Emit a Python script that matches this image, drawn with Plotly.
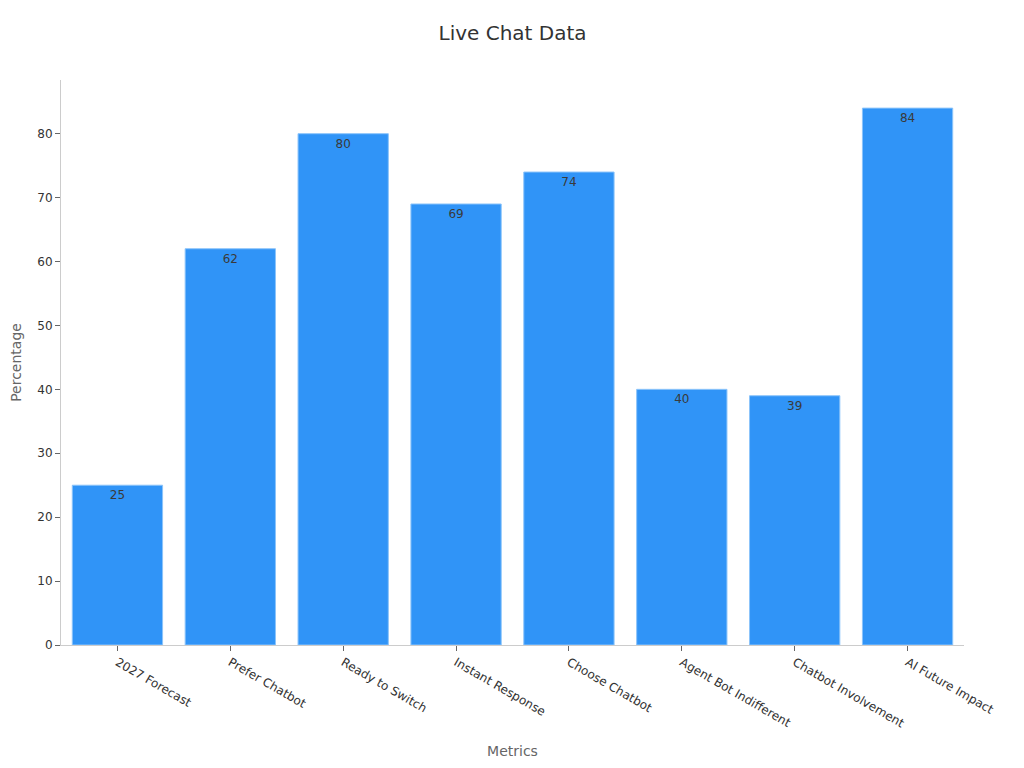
import plotly.graph_objects as go

categories = ["2027 Forecast", "Prefer Chatbot", "Ready to Switch", "Instant Response",
              "Choose Chatbot", "Agent Bot Indifferent", "Chatbot Involvement", "AI Future Impact"]
values = [25, 62, 80, 69, 74, 40, 39, 84]

fig = go.Figure(go.Bar(
    x=categories, y=values,
    text=values, textposition="inside", insidetextanchor="end",
    textfont=dict(family="DejaVu Sans", size=12, color="#3a3a3a"),
    marker=dict(color="#3094F7", line=dict(color="#8CC4FA", width=1)),
))

fig.update_layout(
    width=1024, height=768,
    paper_bgcolor="white", plot_bgcolor="white",
    margin=dict(l=53, r=68, t=72, b=131),
    bargap=0.2,
    font=dict(family="DejaVu Sans", size=12, color="#333333"),
    title=dict(text="Live Chat Data", x=0.4927, xanchor="center", y=0.9674, yanchor="middle",
               font=dict(size=20, color="#333333")),
    xaxis=dict(title=dict(text="Metrics", font=dict(size=14, color="#666666"), standoff=16),
               automargin=False,
               tickangle=30, showline=True, linecolor="#CCCCCC", ticks="outside",
               tickcolor="#666666", ticklen=5, showgrid=False, tickfont=dict(size=12, color="#333333")),
    yaxis=dict(title=dict(text="Percentage", font=dict(size=14, color="#666666"), standoff=12),
               automargin=False,
               range=[0, 88.4], dtick=10, showline=True, linecolor="#CCCCCC", ticks="outside",
               tickcolor="#666666", ticklen=5, showgrid=False, zeroline=False,
               tickfont=dict(size=12, color="#333333")),
    uniformtext=dict(minsize=8),
)

fig.write_html("out.html")
